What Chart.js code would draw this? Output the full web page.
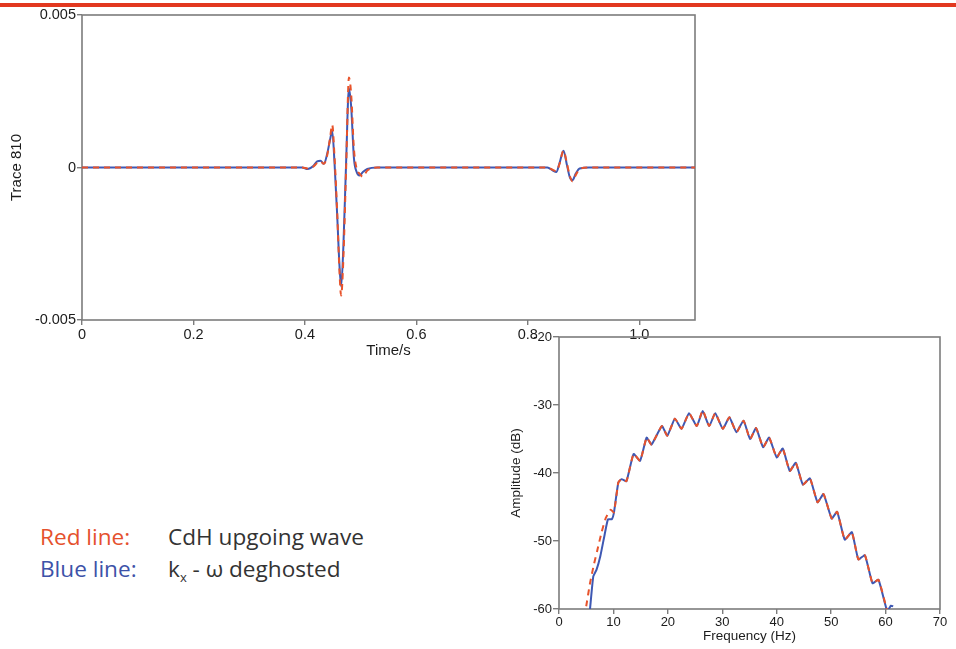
<!DOCTYPE html>
<html>
<head>
<meta charset="utf-8">
<script src="https://cdn.jsdelivr.net/npm/chart.js@4.4.1/dist/chart.umd.min.js"></script>
<style>
  html, body { margin: 0; padding: 0; background: #ffffff; }
  body { width: 956px; height: 649px; position: relative; overflow: hidden; }
  .topbar { position: absolute; left: 0; top: 3px; width: 956px; height: 4px; background: #e2381f; }
  #traceWrap { position: absolute; left: 0; top: 0; width: 720px; height: 360px; }
  #specWrap { position: absolute; left: 490px; top: 325px; width: 466px; height: 324px; }
  .legend { position: absolute; left: 40px; font-family: "Open Sans", sans-serif; font-size: 22.6px; color: #333; }
  .legend span.key { display: inline-block; width: 128px; }
  .legend sub { font-size: 13px; vertical-align: -5px; }
</style>
</head>
<body>
<div class="topbar"></div>
<div id="traceWrap"><canvas id="trace" width="720" height="360"></canvas></div>
<div id="specWrap"><canvas id="spec" width="466" height="324"></canvas></div>
<div class="legend" style="top:521px;"><span class="key" style="color:#e5512d;">Red line:</span>CdH upgoing wave</div>
<div class="legend" style="top:553px;"><span class="key" style="color:#3d52a8;">Blue line:</span>k<sub>x</sub> - ω deghosted</div>
<script>
// Trace 810: time (s) and amplitudes for both processing results
const traceTime = [0, 0.1, 0.2, 0.3, 0.38, 0.395, 0.405, 0.415, 0.422, 0.428, 0.434, 0.44, 0.445, 0.449, 0.453, 0.458, 0.462, 0.465, 0.469, 0.474, 0.479, 0.483, 0.488, 0.493, 0.498, 0.504, 0.512, 0.53, 0.6, 0.7, 0.8, 0.835, 0.845, 0.851, 0.857, 0.864, 0.870, 0.875, 0.880, 0.886, 0.893, 0.91, 1.0, 1.1];
const traceUpgoing = [0, 0, 0, 0, 0, 0, -0.00003, 0.00003, 0.00015, 0.0002, 0.00012, 0.0004, 0.00095, 0.0014, 0.0004, -0.0015, -0.0034, -0.0042, -0.003, 0.0, 0.00295, 0.0024, 0.0006, -0.00005, -0.0002, -0.0003, -0.0001, 0, 0, 0, 0, 0, -0.00008, -0.00012, 0.00012, 0.00055, 0.00015, -0.00025, -0.00045, -0.00025, -0.00005, 0, 0, 0];
const traceDeghosted = [0, 0, 0, 0, 0, 0, -0.00005, 0.00005, 0.0002, 0.00022, 0.00012, 0.00045, 0.0009, 0.0012, 0.0002, -0.0016, -0.0032, -0.0039, -0.0026, 0.0002, 0.0026, 0.002, 0.0003, -0.00015, -0.00026, -0.00015, -0.00005, 0, 0, 0, 0, 0, -0.0001, -0.00015, 0.00015, 0.00055, 0.0001, -0.0003, -0.00042, -0.0002, -0.00003, 0, 0, 0];
const traceYTicks = [-0.005, 0, 0.005];
const traceXTicks = [0, 0.2, 0.4, 0.6, 0.8, 1.0];

// Amplitude spectra (dB) against frequency (Hz)
const freqUpgoing = [5.0, 5.7, 6.4, 7.0, 7.8, 8.6, 9.5, 10.1, 10.9, 11.5, 12.4, 13.7, 14.9, 16.1, 17.0, 18.9, 19.9, 21.3, 22.5, 23.9, 25.3, 26.4, 27.6, 28.7, 30.1, 31.3, 32.6, 33.9, 35.1, 36.2, 37.5, 38.6, 40.0, 41.1, 42.4, 43.5, 44.8, 46.1, 47.5, 48.6, 50.1, 51.1, 52.5, 53.8, 55.0, 56.2, 57.6, 58.7, 60.3];
const ampUpgoing = [-59.6, -56.2, -53.5, -51.5, -48.8, -46.6, -45.4, -45.8, -41.4, -40.9, -41.2, -37.2, -38.2, -34.8, -35.8, -33.1, -34.5, -32.0, -33.5, -31.2, -33.1, -30.8, -33.1, -31.2, -33.5, -31.8, -34.0, -32.3, -35.0, -33.4, -36.2, -34.8, -37.7, -36.4, -39.7, -38.5, -41.7, -40.8, -44.3, -43.1, -46.7, -45.7, -49.8, -48.7, -52.7, -52.1, -56.2, -55.7, -60.3];
const freqDeghosted = [5.7, 6.3, 6.9, 7.6, 8.4, 9.0, 9.7, 10.1, 10.9, 11.5, 12.4, 13.7, 14.9, 16.1, 17.0, 18.9, 19.9, 21.3, 22.5, 23.9, 25.3, 26.4, 27.6, 28.7, 30.1, 31.3, 32.6, 33.9, 35.1, 36.2, 37.5, 38.6, 40.0, 41.1, 42.4, 43.5, 44.8, 46.1, 47.5, 48.6, 50.1, 51.1, 52.5, 53.8, 55.0, 56.2, 57.6, 58.7, 60.3, 61.0, 61.4];
const ampDeghosted = [-60.0, -55.2, -54.2, -52.2, -49.0, -46.8, -46.8, -45.8, -41.4, -40.9, -41.2, -37.2, -38.2, -34.8, -35.8, -33.1, -34.5, -32.0, -33.5, -31.2, -33.1, -30.9, -33.1, -31.2, -33.5, -31.8, -34.0, -32.3, -35.0, -33.4, -36.2, -34.8, -37.7, -36.4, -39.7, -38.5, -41.7, -40.8, -44.3, -43.1, -46.7, -45.7, -49.8, -48.7, -52.7, -52.1, -56.2, -55.7, -60.3, -59.5, -59.6];
const specXTicks = [0, 10, 20, 30, 40, 50, 60, 70];
const specYTicks = [-60, -50, -40, -30, -20];

const RED = '#e8532b';
const BLUE = '#3e58b3';
const AXIS = '#7c7c7c';
const TEXT = '#1c1c1c';
const FONT = "'Liberation Sans', Arial, sans-serif";

function pairs(xs, ys) { return xs.map((x, i) => ({ x: x, y: ys[i] })); }

// Frame around the plotting area
const frame = {
  id: 'frame',
  beforeDatasetsDraw(chart) {
    const a = chart.chartArea, ctx = chart.ctx;
    ctx.save();
    ctx.strokeStyle = AXIS;
    ctx.lineWidth = 1.6;
    ctx.strokeRect(a.left, a.top, a.right - a.left, a.bottom - a.top);
    ctx.restore();
  }
};

function axisGrid(len) {
  return { display: true, drawOnChartArea: false, drawTicks: true, tickLength: len, color: AXIS, lineWidth: 1.4 };
}

// The dashed red series comes first so it is painted over the solid blue one
new Chart(document.getElementById('trace'), {
  type: 'line',
  data: {
    datasets: [
      { label: 'CdH upgoing wave', data: pairs(traceTime, traceUpgoing), borderColor: RED, borderWidth: 2, borderDash: [6, 5], pointRadius: 0, cubicInterpolationMode: 'monotone', fill: false },
      { label: 'k_x - ω deghosted', data: pairs(traceTime, traceDeghosted), borderColor: BLUE, borderWidth: 2, pointRadius: 0, cubicInterpolationMode: 'monotone', fill: false }
    ]
  },
  options: {
    responsive: false, animation: false, events: [],
    layout: { padding: { left: 0, top: 15, right: 25, bottom: 0 } },
    plugins: { legend: { display: false }, tooltip: { enabled: false } },
    scales: {
      x: {
        type: 'linear', min: 0, max: 1.1,
        afterFit(s) { s.height = 40; },
        afterBuildTicks(s) { s.ticks = traceXTicks.map(v => ({ value: v })); },
        grid: axisGrid(5), border: { display: false },
        ticks: { padding: 1, color: TEXT, font: { family: FONT, size: 14.5 }, maxRotation: 0,
          callback: v => v === 0 ? '0' : Number(v).toFixed(1) },
        title: { display: true, text: 'Time/s', color: TEXT, font: { family: FONT, size: 15 }, padding: { top: 0, bottom: 0 } }
      },
      y: {
        type: 'linear', min: -0.005, max: 0.005,
        afterFit(s) { s.width = 82; },
        afterBuildTicks(s) { s.ticks = traceYTicks.map(v => ({ value: v })); },
        grid: axisGrid(5), border: { display: false },
        ticks: { padding: 1, color: TEXT, font: { family: FONT, size: 14.5 },
          callback: v => v === 0 ? '0' : Number(v).toFixed(3) },
        title: { display: true, text: 'Trace 810', color: TEXT, font: { family: FONT, size: 15 }, padding: { top: 8, bottom: 0 } }
      }
    }
  },
  plugins: [frame]
});

new Chart(document.getElementById('spec'), {
  type: 'line',
  data: {
    datasets: [
      { label: 'CdH upgoing wave', data: pairs(freqUpgoing, ampUpgoing), borderColor: RED, borderWidth: 2, borderDash: [6, 5], pointRadius: 0, tension: 0.15, fill: false },
      { label: 'k_x - ω deghosted', data: pairs(freqDeghosted, ampDeghosted), borderColor: BLUE, borderWidth: 2, pointRadius: 0, tension: 0.15, fill: false }
    ]
  },
  options: {
    responsive: false, animation: false, events: [],
    layout: { padding: { left: 0, top: 12, right: 16, bottom: 0 } },
    plugins: { legend: { display: false }, tooltip: { enabled: false } },
    scales: {
      x: {
        type: 'linear', min: 0, max: 70,
        afterFit(s) { s.height = 40; },
        afterBuildTicks(s) { s.ticks = specXTicks.map(v => ({ value: v })); },
        grid: axisGrid(5), border: { display: false },
        ticks: { padding: 1, color: TEXT, font: { family: FONT, size: 13 }, maxRotation: 0 },
        title: { display: true, text: 'Frequency (Hz)', color: TEXT, font: { family: FONT, size: 13.5 }, padding: { top: 0, bottom: 5 } }
      },
      y: {
        type: 'linear', min: -60, max: -20,
        afterFit(s) { s.width = 69; },
        afterBuildTicks(s) { s.ticks = specYTicks.map(v => ({ value: v })); },
        grid: axisGrid(6), border: { display: false },
        ticks: { padding: 1, color: TEXT, font: { family: FONT, size: 13 } },
        title: { display: true, text: 'Amplitude (dB)', color: TEXT, font: { family: FONT, size: 13.5 }, padding: { top: 18, bottom: 0 } }
      }
    }
  },
  plugins: [frame]
});
</script>
</body>
</html>
